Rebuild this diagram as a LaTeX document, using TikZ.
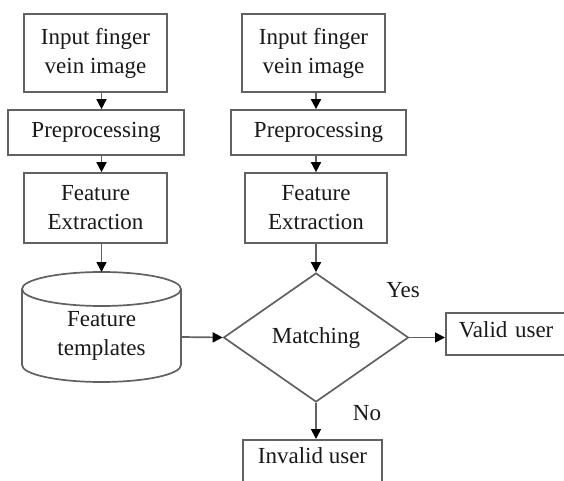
\documentclass[tikz,border=0pt]{standalone}
\usepackage{fontspec}
\setmainfont{Liberation Serif}
\usetikzlibrary{shapes.geometric,arrows.meta}
\begin{document}
\begin{tikzpicture}[x=1pt,y=1pt,
  lnk/.style={draw=black!62,line width=1.7pt},
  txt/.style={font=\fontsize{23}{29}\selectfont, text=black!90},
  box/.style={lnk, txt, rectangle, inner sep=0pt, align=center},
  lbl/.style={txt, inner sep=0pt, align=center},
  arr/.style={lnk, -{Triangle[length=10pt,width=10pt,color=black]}}
]
\useasboundingbox (0,0) rectangle (564,-481);
\clip (0,0) rectangle (564,-481);
\fill[white] (0,0) rectangle (564,-481);

% left column
\node[box, minimum width=143pt, minimum height=78pt] (in1) at (95.5,-53) {Input finger\\vein image};
\node[box, minimum width=176pt, minimum height=45pt] (pre1) at (96,-132.5) {Preprocessing};
\node[box, minimum width=143pt, minimum height=70pt] (fe1) at (95.5,-208) {Feature\\Extraction};
\node[lbl] (tmpl) at (101.5,-336) {Feature\\templates};
\coordinate (tmpltop) at (101.5,-272);
\coordinate (tmplright) at (181,-337);
% cylinder
\draw[lnk] (101.5,-289) ellipse [x radius=79.5, y radius=17];
\draw[lnk] (22,-289) -- (22,-365) arc [start angle=180, end angle=360, x radius=79.5, y radius=17] -- (181,-289);

% right column
\node[box, minimum width=143pt, minimum height=78pt] (in2) at (313.5,-53) {Input finger\\vein image};
\node[box, minimum width=175pt, minimum height=45pt] (pre2) at (318.5,-132.5) {Preprocessing};
\node[box, minimum width=142pt, minimum height=70pt] (fe2) at (316,-208) {Feature\\Extraction};
\node[lnk, txt, diamond, minimum width=185pt, minimum height=129pt, inner sep=0pt, aspect=1.43] (dia) at (316,-337.5) {Matching};
\node[box, anchor=west, text width=114pt, inner xsep=13pt, inner ysep=4pt, align=left, text height=20pt, text depth=14pt] (valid) at (445,-334) {Valid user};
\node[box, anchor=north, minimum width=139pt, inner ysep=4pt, text height=20pt, text depth=25pt] (inv) at (312.5,-439) {Invalid user};
\node[lbl] (yes) at (403,-290) {Yes};
\node[lbl] (no) at (367,-413) {No};

% connectors
\draw[arr] (in1.south -| tmpl) -- (pre1.north -| tmpl);
\draw[arr] (pre1.south -| tmpl) -- (fe1.north -| tmpl);
\draw[arr] (fe1.south -| tmpl) -- (tmpltop);
\draw[arr] (tmplright) -- (dia.west);
\draw[arr] (in2.south -| dia) -- (pre2.north -| dia);
\draw[arr] (pre2.south -| dia) -- (fe2.north -| dia);
\draw[arr] (fe2.south -| dia) -- (dia.north);
\draw[arr] (dia.east) -- (valid.west |- dia.east);
\draw[arr] (dia.south) -- (inv.north -| dia);
\end{tikzpicture}
\end{document}
